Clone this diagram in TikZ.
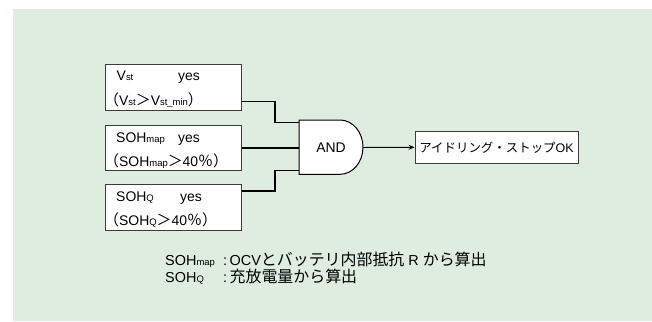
\documentclass[tikz,border=0pt]{standalone}
\usepackage{fontspec}
\setmainfont{Liberation Sans}
\newfontfamily\jp{Noto Sans CJK JP}
\usetikzlibrary{arrows.meta}
\definecolor{bggreen}{RGB}{222,237,224}
\definecolor{boxline}{RGB}{60,60,60}
\newcommand\sbs[1]{{\fontsize{9.5}{9.5}\selectfont #1}}
\newcommand\jb[1]{{\fontsize{15}{15}\jp #1}}
\newcommand\jf[1]{{\fontsize{16}{16}\jp #1}}
\tikzset{
  box/.style={draw=boxline, line width=0.9bp, fill=white, minimum width=135.3bp, inner sep=0pt},
  txt/.style={anchor=base west, inner sep=0pt, font=\fontsize{14}{14}\selectfont},
  foot/.style={anchor=base west, inner sep=0pt, font=\fontsize{14.5}{14.5}\selectfont},
  wire/.style={draw=black, line width=1.3bp},
  gatestyle/.style={draw=black, line width=1bp, fill=white},
}
\begin{document}
\begin{tikzpicture}[x=1bp,y=-1bp]
\useasboundingbox (0,0) rectangle (652,321);
\fill[bggreen] (13,9) rectangle (652,321);
% input boxes
\node[box, minimum height=45.7bp] (b1) at (173.4,87.2) {};
\node[box, minimum height=45bp] (b2) at (173.4,147.5) {};
\node[box, minimum height=45.7bp] (b3) at (173.4,207.2) {};
% box texts
\node[txt] (t1a) at (116.5,80.7) {V\sbs{st}};
\node[txt] (t1b) at (178,80.7) {yes};
\node[txt] (t1c) at (104,105) {\jb{（}V\sbs{st}\jb{＞}V\sbs{st\_min}\jb{）}};
\node[txt] (t2a) at (116,142) {SOH\sbs{map}};
\node[txt] (t2b) at (178,142) {yes};
\node[txt] (t2c) at (104,166) {\jb{（}SOH\sbs{map}\jb{＞}40\jb{％）}};
\node[txt] (t3a) at (116,201.7) {SOH\sbs{Q}};
\node[txt] (t3b) at (180,201.7) {yes};
\node[txt] (t3c) at (104,225.5) {\jb{（}SOH\sbs{Q}\jb{＞}40\jb{％）}};
% AND gate
\path[gatestyle] (299,120) -- (340,120) arc[start angle=-90, end angle=90, x radius=23, y radius=27.15] -- (299,174.3) -- cycle;
\node[inner sep=0pt, font=\fontsize{14}{14}\selectfont] (gate) at (331,147.5) {AND};
\coordinate (g1) at (299,122.7);
\coordinate (g2) at (299,148);
\coordinate (g3) at (299,170.7);
\coordinate (gout) at (363,147.5);
% output box
\node[box, minimum width=163bp, minimum height=32.3bp] (out) at (496.5,147.3) {};
\node[inner sep=0pt, font=\fontsize{12.5}{12.5}\selectfont] (outt) at (496.5,147.3) {{\jp アイドリング・ストップ}OK};
% wires
\draw[wire] (b1.east |- 0,101.7) -| (275,122.7) -- (g1);
\draw[wire] (b2.east |- 0,148) -- (g2);
\draw[wire] (b3.east |- 0,191) -| (275,170.7) -- (g3);
\draw[line width=1bp, -{Stealth[length=6bp,width=5bp]}] (gout) -- (out.west);
% footnote
\node[foot] (f1a) at (165,265) {SOH\sbs{map}};
\node[foot] (f1b) at (223,265) {:\,OCV\jf{とバッテリ内部抵抗} R \jf{から算出}};
\node[foot] (f2a) at (165,282.7) {SOH\sbs{Q}};
\node[foot] (f2b) at (223,282.7) {:\,\jf{充放電量から算出}};
\end{tikzpicture}
\end{document}
